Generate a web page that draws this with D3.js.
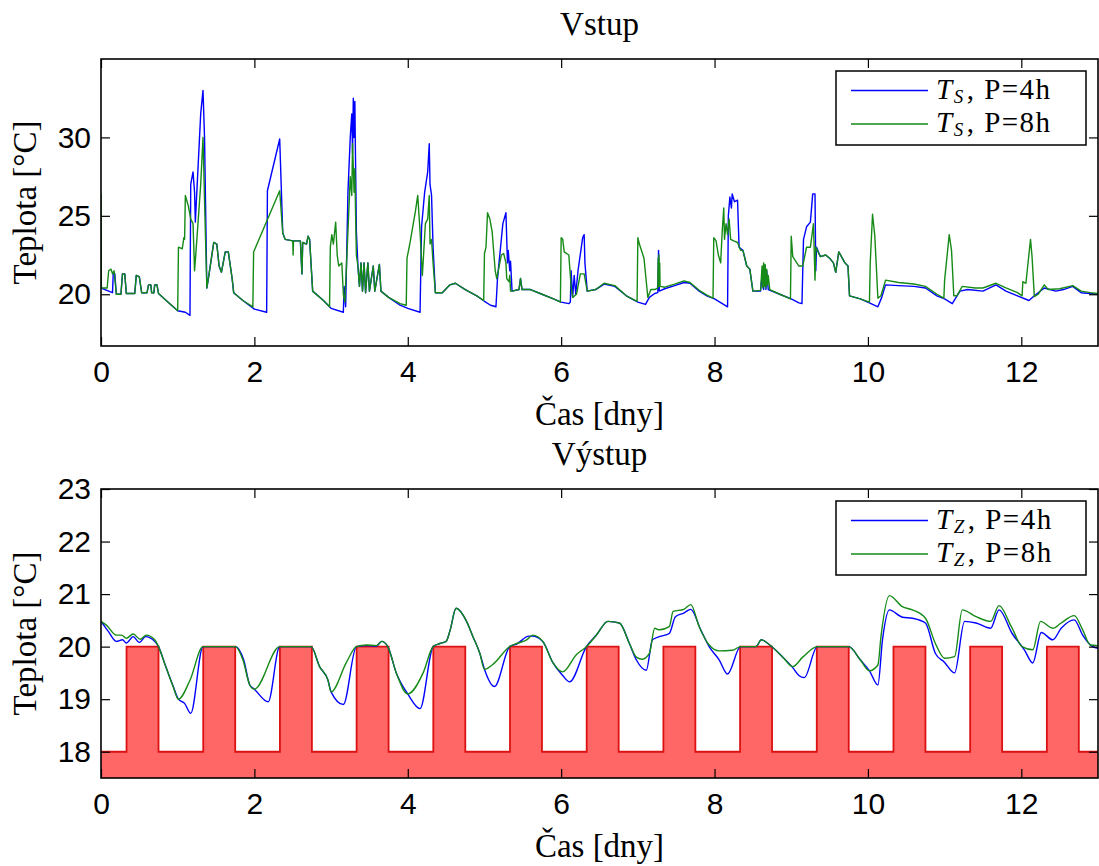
<!DOCTYPE html>
<html>
<head>
<meta charset="utf-8">
<script src="https://cdn.jsdelivr.net/npm/d3@7"></script>
<style>
  html, body { margin: 0; padding: 0; background: #fff; }
  svg { display: block; }
</style>
</head>
<body>
<svg id="chart" width="1099" height="866"></svg>
<script>
// ---- Data -------------------------------------------------------------
// Time in days, temperature in °C.

// Input (supply) temperature T_S, prediction horizon 4 h
const inputP4 = [
  [0,20.4],[0.1,20.2],[0.15,20.1],[0.16,21.4],[0.18,21.3],[0.2,20.0],[0.26,20.0],[0.28,21.3],[0.31,21.3],
  [0.33,20.05],[0.44,20.05],[0.46,21.2],[0.5,21.1],[0.53,20.1],[0.6,20.1],[0.62,20.6],[0.65,20.6],[0.66,20.1],
  [0.69,20.1],[0.7,20.6],[0.73,20.6],[0.75,20.05],[0.85,19.6],[1.0,18.95],[1.1,18.85],[1.16,18.65],[1.17,27.0],
  [1.2,27.8],[1.22,26.5],[1.23,24.6],[1.3,31.5],[1.33,33.0],[1.35,30.0],[1.38,20.4],[1.4,21.0],[1.47,23.3],
  [1.51,23.2],[1.54,21.8],[1.57,21.4],[1.62,22.7],[1.66,22.7],[1.71,21.0],[1.73,20.1],[1.85,19.6],[2.0,19.05],
  [2.16,18.85],[2.17,26.6],[2.33,29.9],[2.37,23.9],[2.4,23.5],[2.5,23.4],[2.6,23.4],[2.62,21.3],[2.63,23.3],
  [2.68,23.2],[2.7,23.7],[2.72,23.5],[2.76,20.2],[2.9,19.6],[3.0,19.1],[3.16,18.85],[3.17,20.5],[3.19,19.2],
  [3.22,26.5],[3.25,30.0],[3.27,31.5],[3.28,29.0],[3.29,32.5],[3.3,30.0],[3.31,32.3],[3.32,28.0],[3.33,24.0],
  [3.35,21.8],[3.37,20.5],[3.39,22.0],[3.41,20.2],[3.43,22.0],[3.45,20.1],[3.48,22.0],[3.5,20.2],[3.55,21.8],
  [3.57,20.2],[3.63,21.9],[3.65,20.2],[3.75,19.8],[3.9,19.3],[4.0,19.1],[4.16,18.85],[4.18,24.3],[4.22,26.5],
  [4.26,27.8],[4.28,29.6],[4.29,27.0],[4.31,26.3],[4.33,23.0],[4.36,20.1],[4.45,20.1],[4.55,20.6],[4.62,20.7],
  [4.75,20.3],[4.9,19.9],[5.0,19.55],[5.08,19.3],[5.15,19.2],[5.17,21.0],[5.24,24.5],[5.28,25.2],[5.3,22.0],
  [5.31,22.8],[5.33,21.5],[5.34,22.1],[5.36,20.2],[5.45,20.3],[5.47,21.0],[5.49,20.3],[5.6,20.3],[5.75,20.0],
  [5.9,19.7],[6.0,19.5],[6.1,19.4],[6.12,19.5],[6.13,21.5],[6.15,19.8],[6.17,21.2],[6.19,20.0],[6.22,21.5],
  [6.28,23.6],[6.3,23.8],[6.31,22.0],[6.34,20.2],[6.45,20.3],[6.56,20.65],[6.7,20.5],[6.85,19.9],[7.0,19.5],
  [7.1,19.35],[7.15,19.8],[7.22,20.05],[7.26,20.1],[7.27,22.8],[7.28,20.2],[7.35,20.35],[7.48,20.55],[7.6,20.75],
  [7.68,20.7],[7.8,20.2],[7.9,19.9],[8.0,19.7],[8.17,19.2],[8.18,25.0],[8.2,26.2],[8.22,25.5],[8.23,26.4],
  [8.26,25.9],[8.3,26.0],[8.32,23.0],[8.37,22.8],[8.42,21.8],[8.46,21.6],[8.5,20.2],[8.6,20.2],[8.63,21.7],
  [8.64,20.3],[8.66,21.8],[8.67,20.3],[8.68,21.5],[8.7,20.3],[8.85,20.0],[9.0,19.7],[9.1,19.45],[9.14,19.4],
  [9.16,23.5],[9.2,24.3],[9.25,24.6],[9.28,26.4],[9.31,26.4],[9.32,21.5],[9.33,23.0],[9.38,22.4],[9.45,22.5],
  [9.5,22.3],[9.55,22.0],[9.58,21.4],[9.62,22.7],[9.7,22.0],[9.74,21.8],[9.76,19.9],[9.9,19.7],[10.02,19.45],
  [10.13,19.2],[10.18,19.8],[10.23,20.6],[10.4,20.55],[10.6,20.5],[10.75,20.4],[10.9,19.9],[11.0,19.7],
  [11.1,19.4],[11.2,20.2],[11.3,20.3],[11.5,20.2],[11.67,20.6],[11.8,20.2],[11.95,19.9],[12.1,19.6],[12.17,19.9],
  [12.3,20.4],[12.45,20.2],[12.55,20.3],[12.67,20.5],[12.78,20.1],[12.9,20.05],[13.0,20.0]
];

// Input (supply) temperature T_S, prediction horizon 8 h
const inputP8 = [
  [0,26.4],[0.005,20.4],[0.08,20.4],[0.1,21.5],[0.13,21.6],[0.15,21.3],[0.17,21.5],[0.2,20.0],[0.26,20.0],
  [0.28,21.3],[0.31,21.3],[0.33,20.05],[0.44,20.05],[0.46,21.2],[0.5,21.1],[0.53,20.1],[0.6,20.1],[0.62,20.6],
  [0.65,20.6],[0.66,20.1],[0.69,20.1],[0.7,20.6],[0.73,20.6],[0.75,20.05],[0.85,19.6],[1.0,18.95],[1.01,23.0],
  [1.06,22.9],[1.08,23.6],[1.09,23.5],[1.1,26.3],[1.14,25.6],[1.17,24.8],[1.2,24.5],[1.22,21.5],[1.25,23.5],
  [1.3,27.0],[1.33,30.0],[1.35,26.0],[1.38,20.4],[1.4,21.0],[1.47,23.3],[1.51,23.2],[1.54,21.8],[1.57,21.4],
  [1.62,22.7],[1.66,22.7],[1.71,21.0],[1.73,20.1],[1.85,19.6],[1.98,19.2],[1.99,22.7],[2.33,26.6],[2.37,23.9],
  [2.4,23.5],[2.5,23.4],[2.505,22.5],[2.51,23.4],[2.6,23.4],[2.62,21.3],[2.63,23.3],[2.68,23.2],[2.7,23.7],
  [2.72,23.5],[2.76,20.2],[2.9,19.6],[2.98,19.2],[2.99,23.0],[3.01,23.8],[3.03,23.2],[3.06,24.6],[3.08,22.5],
  [3.1,21.8],[3.14,22.0],[3.16,20.0],[3.18,19.5],[3.22,24.0],[3.25,27.5],[3.27,26.3],[3.28,29.6],[3.3,26.5],
  [3.31,28.0],[3.32,25.0],[3.33,22.5],[3.35,21.8],[3.37,20.5],[3.39,22.0],[3.41,20.2],[3.43,22.0],[3.45,20.1],
  [3.48,22.0],[3.5,20.2],[3.55,21.8],[3.57,20.2],[3.63,21.9],[3.65,20.2],[3.75,19.8],[3.9,19.4],[3.98,19.3],
  [3.99,22.3],[4.03,23.3],[4.1,25.3],[4.13,26.3],[4.16,24.0],[4.19,21.2],[4.23,24.5],[4.26,24.8],[4.28,26.3],
  [4.29,23.2],[4.31,23.5],[4.33,22.0],[4.36,20.1],[4.45,20.1],[4.55,20.6],[4.62,20.7],[4.75,20.3],[4.9,19.9],
  [4.99,19.6],[5.0,22.6],[5.02,23.0],[5.04,25.2],[5.07,24.8],[5.1,24.0],[5.14,21.5],[5.16,21.0],[5.22,22.5],
  [5.25,22.6],[5.28,22.0],[5.29,21.0],[5.32,20.8],[5.33,21.2],[5.34,20.2],[5.36,20.2],[5.45,20.3],[5.47,21.0],
  [5.49,20.3],[5.6,20.3],[5.75,20.0],[5.9,19.7],[5.99,19.5],[6.0,23.6],[6.02,23.5],[6.04,22.7],[6.1,22.5],
  [6.13,20.5],[6.15,19.8],[6.2,20.0],[6.25,21.3],[6.3,21.3],[6.34,20.2],[6.45,20.3],[6.56,20.7],[6.7,20.55],
  [6.85,19.9],[6.99,19.55],[7.0,23.6],[7.02,23.2],[7.08,22.3],[7.12,20.3],[7.13,19.8],[7.17,20.3],[7.22,20.3],
  [7.26,20.4],[7.265,22.3],[7.27,20.5],[7.275,22.5],[7.28,20.5],[7.285,22.0],[7.29,20.5],[7.35,20.45],
  [7.48,20.65],[7.6,20.85],[7.68,20.75],[7.8,20.25],[7.9,19.95],[7.98,19.75],[7.99,23.6],[8.02,23.4],
  [8.05,22.5],[8.08,22.0],[8.1,24.0],[8.12,25.5],[8.13,23.5],[8.15,24.5],[8.17,23.8],[8.19,24.8],[8.21,23.5],
  [8.25,23.4],[8.3,23.3],[8.34,22.8],[8.37,22.8],[8.42,21.8],[8.46,21.6],[8.5,20.2],[8.6,20.25],[8.62,21.8],
  [8.63,20.4],[8.64,22.0],[8.65,20.5],[8.66,21.9],[8.67,20.4],[8.68,21.6],[8.69,20.6],[8.7,21.2],[8.72,20.3],
  [8.85,20.0],[8.99,19.7],[9.0,23.7],[9.02,22.4],[9.1,21.8],[9.15,21.8],[9.2,23.0],[9.25,23.0],[9.29,24.5],
  [9.31,20.9],[9.32,23.0],[9.38,22.4],[9.45,22.5],[9.5,22.3],[9.55,22.0],[9.58,21.4],[9.62,22.7],[9.7,22.0],
  [9.74,21.8],[9.76,19.9],[9.9,19.7],[10.02,19.5],[10.03,22.0],[10.06,25.1],[10.09,23.7],[10.13,19.75],
  [10.17,19.9],[10.23,20.9],[10.4,20.75],[10.6,20.65],[10.75,20.5],[10.9,20.0],[10.99,19.75],[11.0,20.9],
  [11.06,23.8],[11.09,22.8],[11.12,19.9],[11.16,19.9],[11.23,20.5],[11.4,20.4],[11.5,20.4],[11.67,20.7],
  [11.8,20.4],[11.95,20.1],[12.01,19.9],[12.02,20.8],[12.06,20.7],[12.12,23.5],[12.14,22.4],[12.17,19.85],
  [12.22,20.0],[12.3,20.6],[12.35,20.3],[12.5,20.35],[12.67,20.55],[12.78,20.2],[12.9,20.1],[13.0,20.05]
];

// Output (zone) temperature T_Z, prediction horizon 4 h
const outputP4 = [
  [0,20.48],[0.1,20.28],[0.2,20.1],[0.28,20.13],[0.33,20.07],[0.42,20.19],[0.5,20.08],[0.58,20.19],[0.7,20.1],
  [0.75,20.0],[0.83,19.68],[0.94,19.25],[1.01,19.0],[1.09,18.92],[1.17,18.73],[1.33,20.0],[1.75,20.0],
  [1.86,19.75],[1.94,19.27],[2.0,19.19],[2.18,18.95],[2.33,20.0],[2.74,20.0],[2.85,19.62],[2.96,19.36],
  [3.0,19.14],[3.16,18.9],[3.33,20.0],[3.46,20.02],[3.59,20.01],[3.66,20.1],[3.74,20.0],[3.85,19.5],[4.0,19.1],
  [4.16,18.82],[4.33,20.0],[4.42,20.06],[4.5,20.1],[4.55,20.3],[4.63,20.73],[4.76,20.5],[4.85,20.19],
  [4.94,19.87],[5.0,19.57],[5.13,19.24],[5.33,20.0],[5.42,20.05],[5.58,20.2],[5.62,20.2],[5.76,20.1],
  [5.89,19.7],[6.02,19.45],[6.11,19.33],[6.33,20.0],[6.46,20.22],[6.61,20.48],[6.76,20.45],[6.89,20.06],
  [6.98,19.75],[7.11,19.55],[7.19,20.13],[7.28,20.19],[7.41,20.25],[7.49,20.57],[7.6,20.64],[7.69,20.71],
  [7.82,20.32],[7.93,20.0],[8.06,19.75],[8.17,19.48],[8.34,20.0],[8.54,20.0],[8.61,20.13],[8.72,20.03],
  [8.89,19.8],[9.02,19.6],[9.1,19.45],[9.17,19.41],[9.34,20.0],[9.75,20.0],[9.9,19.75],[10.02,19.54],
  [10.13,19.27],[10.19,20.13],[10.28,20.7],[10.45,20.56],[10.58,20.54],[10.75,20.45],[10.88,19.87],[11.0,19.7],
  [11.13,19.5],[11.26,20.48],[11.41,20.45],[11.6,20.35],[11.71,20.7],[11.88,20.25],[12.04,19.94],[12.15,19.69],
  [12.26,20.27],[12.41,20.13],[12.52,20.35],[12.69,20.51],[12.8,20.22],[12.93,20.0],[13.0,19.97]
];

// Output (zone) temperature T_Z, prediction horizon 8 h
const outputP8 = [
  [0,20.48],[0.07,20.41],[0.2,20.22],[0.27,20.22],[0.33,20.16],[0.42,20.24],[0.51,20.14],[0.59,20.22],
  [0.7,20.13],[0.75,20.0],[0.83,19.68],[0.94,19.24],[1.01,19.0],[1.16,19.36],[1.33,20.0],[1.75,20.0],
  [1.85,19.75],[1.94,19.27],[2.0,19.19],[2.33,20.0],[2.74,20.0],[2.85,19.62],[2.96,19.36],[3.0,19.14],
  [3.2,19.7],[3.33,20.0],[3.46,20.03],[3.59,20.02],[3.66,20.1],[3.74,20.0],[3.85,19.5],[4.0,19.1],[4.2,19.5],
  [4.33,20.0],[4.42,20.06],[4.5,20.1],[4.55,20.3],[4.63,20.73],[4.76,20.5],[4.85,20.19],[4.94,19.87],
  [5.0,19.57],[5.1,19.65],[5.33,20.0],[5.42,20.06],[5.55,20.13],[5.63,20.22],[5.76,20.1],[5.89,19.7],
  [6.02,19.52],[6.2,19.85],[6.33,20.0],[6.46,20.22],[6.61,20.48],[6.76,20.45],[6.89,20.06],[6.98,19.8],
  [7.06,19.76],[7.15,19.87],[7.22,20.35],[7.28,20.32],[7.41,20.38],[7.46,20.67],[7.6,20.71],[7.69,20.8],
  [7.8,20.38],[7.93,20.03],[8.06,19.92],[8.23,19.93],[8.34,20.0],[8.54,20.0],[8.61,20.13],[8.72,20.03],
  [8.89,19.8],[9.02,19.62],[9.15,19.8],[9.34,20.0],[9.75,20.0],[9.9,19.75],[10.02,19.54],[10.13,19.65],
  [10.17,20.19],[10.28,20.97],[10.45,20.76],[10.58,20.7],[10.75,20.54],[10.88,20.06],[11.0,19.78],
  [11.13,19.81],[11.23,20.7],[11.41,20.57],[11.6,20.48],[11.71,20.78],[11.87,20.38],[12.01,20.0],[12.15,19.94],
  [12.25,20.48],[12.41,20.35],[12.52,20.45],[12.69,20.59],[12.8,20.32],[12.9,20.03],[13.0,20.02]
];

// Setpoint schedule: comfort periods (days) at 20 °C, otherwise 18 °C
const comfortStart = [0.333,1.333,2.333,3.333,4.333,5.333,6.333,7.333,8.333,9.333,10.333,11.333,12.333];
const comfortEnd   = [0.75,1.75,2.75,3.75,4.75,5.75,6.75,7.75,8.75,9.75,10.75,11.75,12.75];
const setpointLow = 18;
const setpointHigh = 20;

const xTicks = [0, 2, 4, 6, 8, 10, 12];
const yTicksTop = [20, 25, 30];
const yTicksBottom = [18, 19, 20, 21, 22, 23];

const legendTop = [
  { sub: "S", label: ", P=4h", color: "#0000ff" },
  { sub: "S", label: ", P=8h", color: "#168a16" }
];
const legendBottom = [
  { sub: "Z", label: ", P=4h", color: "#0000ff" },
  { sub: "Z", label: ", P=8h", color: "#168a16" }
];

// ---- Layout ------------------------------------------------------------
const svg = d3.select("#chart");
const serif = "'Liberation Serif', 'Times New Roman', serif";
const sans = "'Liberation Sans', Arial, sans-serif";
const plotLeft = 101, plotRight = 1098;
const BLUE = "#0000ff", GREEN = "#168a16";

const x = d3.scaleLinear().domain([0, 13]).range([plotLeft, plotRight]);

function drawPanel(cfg) {
  const { top, bottom, yDomain, yTicks, id } = cfg;
  const y = d3.scaleLinear().domain(yDomain).range([bottom, top]);
  const g = svg.append("g");

  g.append("clipPath").attr("id", id)
    .append("rect")
    .attr("x", plotLeft).attr("y", top)
    .attr("width", plotRight - plotLeft).attr("height", bottom - top);

  const plot = g.append("g").attr("clip-path", `url(#${id})`);
  cfg.drawMarks(plot, y);

  // axes with inward ticks on all four sides
  const tick = 9;
  const styleAxis = sel => {
    sel.select(".domain").remove();
    sel.selectAll(".tick line").attr("stroke", "#000").attr("stroke-width", 1.2);
    sel.selectAll("text").attr("fill", "#000");
  };
  g.append("g").attr("transform", `translate(0,${bottom})`)
    .call(d3.axisBottom(x).tickValues(xTicks).tickSizeInner(-tick).tickSizeOuter(0).tickPadding(15)
      .tickFormat(d3.format("d")))
    .call(styleAxis)
    .selectAll("text").attr("font-family", sans).attr("font-size", 30);
  g.append("g").attr("transform", `translate(0,${top})`)
    .call(d3.axisTop(x).tickValues(xTicks).tickSizeInner(-tick).tickSizeOuter(0).tickFormat(""))
    .call(styleAxis);
  g.append("g").attr("transform", `translate(${plotLeft},0)`)
    .call(d3.axisLeft(y).tickValues(yTicks).tickSizeInner(-tick).tickSizeOuter(0).tickPadding(10)
      .tickFormat(d3.format("d")))
    .call(styleAxis)
    .selectAll("text").attr("font-family", sans).attr("font-size", 30);
  g.append("g").attr("transform", `translate(${plotRight},0)`)
    .call(d3.axisRight(y).tickValues(yTicks).tickSizeInner(-tick).tickSizeOuter(0).tickFormat(""))
    .call(styleAxis);

  // frame
  g.append("rect")
    .attr("x", plotLeft).attr("y", top)
    .attr("width", plotRight - plotLeft).attr("height", bottom - top)
    .attr("fill", "none").attr("stroke", "#000").attr("stroke-width", 1.6);

  // titles
  const cx = (plotLeft + plotRight) / 2;
  g.append("text").attr("x", cx).attr("y", top - 24)
    .attr("text-anchor", "middle").attr("font-family", serif).attr("font-size", 33)
    .text(cfg.title);
  g.append("text").attr("x", cx).attr("y", bottom + 79)
    .attr("text-anchor", "middle").attr("font-family", serif).attr("font-size", 33)
    .text("Čas [dny]");
  g.append("text")
    .attr("transform", `translate(36,${(top + bottom) / 2}) rotate(-90)`)
    .attr("text-anchor", "middle").attr("font-family", serif).attr("font-size", 33)
    .text("Teplota [°C]");

  // legend
  const lg = g.append("g");
  const lx = 836, ly = top + 12, lw = 250, lh = 74;
  lg.append("rect").attr("x", lx).attr("y", ly).attr("width", lw).attr("height", lh)
    .attr("fill", "#fff").attr("stroke", "#000").attr("stroke-width", 1.5);
  cfg.legend.forEach((d, i) => {
    const yy = ly + 19.5 + i * 33.5;
    lg.append("line").attr("x1", 851).attr("x2", 928).attr("y1", yy).attr("y2", yy)
      .attr("stroke", d.color).attr("stroke-width", 1.4);
    const t = lg.append("text").attr("x", 936).attr("y", yy + 8)
      .attr("font-family", serif).attr("font-size", 29).attr("letter-spacing", 1.5);
    t.append("tspan").attr("font-style", "italic").text("T");
    t.append("tspan").attr("font-style", "italic").attr("font-size", 19).attr("dy", 4).text(d.sub);
    t.append("tspan").attr("dy", -4).attr("dx", 2).text(d.label);
  });
}

const lineGen = y => d3.line().x(d => x(d[0])).y(d => y(d[1]));

// ---- Upper panel: input temperatures ------------------------------------
drawPanel({
  id: "clipTop", top: 59, bottom: 346, yDomain: [16.7, 35], yTicks: yTicksTop,
  title: "Vstup", legend: legendTop,
  drawMarks: (plot, y) => {
    plot.append("path").datum(inputP4).attr("d", lineGen(y))
      .attr("fill", "none").attr("stroke", BLUE).attr("stroke-width", 1.4).attr("stroke-linejoin", "round");
    plot.append("path").datum(inputP8).attr("d", lineGen(y))
      .attr("fill", "none").attr("stroke", GREEN).attr("stroke-width", 1.4).attr("stroke-linejoin", "round");
  }
});

// ---- Lower panel: zone temperatures and setpoint -------------------------
drawPanel({
  id: "clipBottom", top: 489, bottom: 778, yDomain: [17.5, 23], yTicks: yTicksBottom,
  title: "Výstup", legend: legendBottom,
  drawMarks: (plot, y) => {
    // setpoint steps
    const steps = [[0, setpointLow]];
    comfortStart.forEach((s, i) => {
      steps.push([s, setpointHigh]);
      steps.push([comfortEnd[i], setpointLow]);
    });
    steps.push([13, setpointLow]);
    plot.append("path").datum(steps)
      .attr("d", d3.area().curve(d3.curveStepAfter).x(d => x(d[0])).y0(y(17.5)).y1(d => y(d[1])))
      .attr("fill", "#ff6666");
    plot.append("path").datum(steps)
      .attr("d", d3.line().curve(d3.curveStepAfter).x(d => x(d[0])).y(d => y(d[1])))
      .attr("fill", "none").attr("stroke", "#dd1111").attr("stroke-width", 1.8);

    plot.append("path").datum(outputP4).attr("d", lineGen(y).curve(d3.curveMonotoneX))
      .attr("fill", "none").attr("stroke", BLUE).attr("stroke-width", 1.4);
    plot.append("path").datum(outputP8).attr("d", lineGen(y).curve(d3.curveMonotoneX))
      .attr("fill", "none").attr("stroke", GREEN).attr("stroke-width", 1.4);
  }
});
</script>
</body>
</html>
